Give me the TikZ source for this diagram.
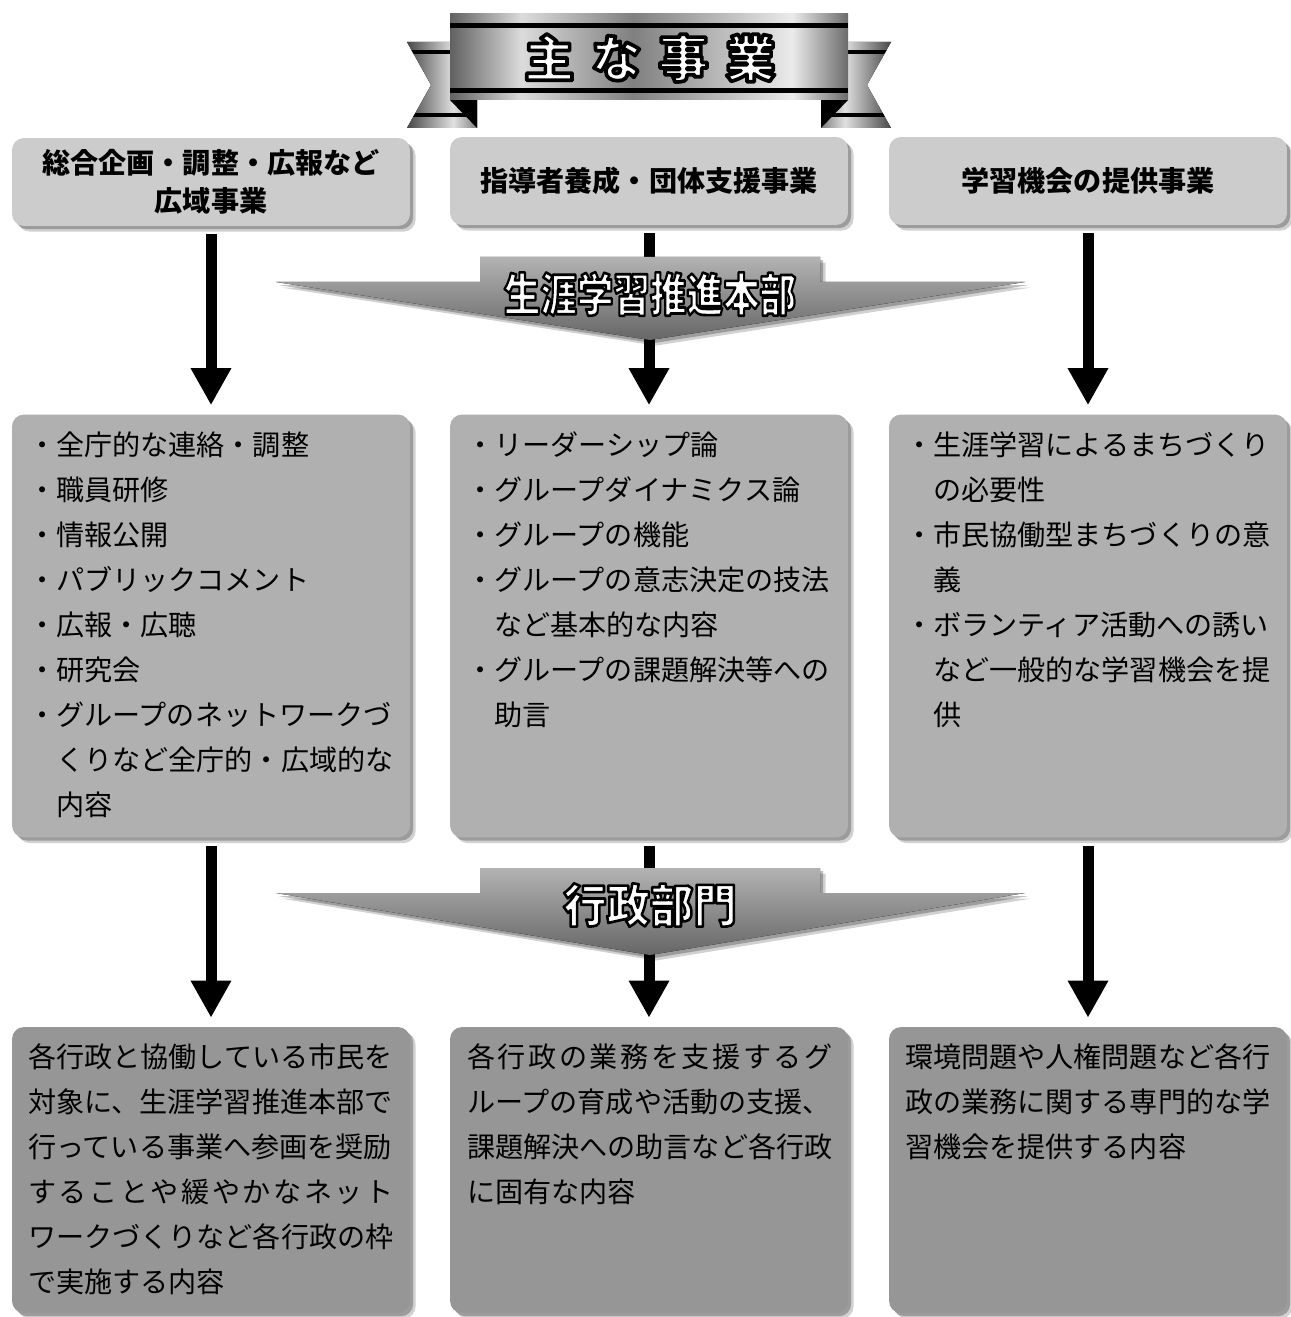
\documentclass[tikz,border=0pt]{standalone}
\usepackage{fontspec}
\setmainfont{Noto Sans CJK JP}
\usetikzlibrary{arrows.meta,shadows,positioning,calc}

% metallic ribbon shadings
\pgfdeclarehorizontalshading{metal}{100bp}{color(0bp)=(black!62); color(25bp)=(black!62); color(34bp)=(black!14); color(48bp)=(black!50); color(68bp)=(black!8); color(75bp)=(black!58); color(100bp)=(black!58)}
\pgfdeclarehorizontalshading{tailleft}{100bp}{color(0bp)=(black!72); color(25bp)=(black!72); color(58bp)=(black!12); color(75bp)=(black!50); color(100bp)=(black!50)}
\pgfdeclarehorizontalshading{tailright}{100bp}{color(0bp)=(black!50); color(25bp)=(black!50); color(42bp)=(black!12); color(75bp)=(black!72); color(100bp)=(black!72)}

\newcommand\bodyfont{\fontsize{16pt}{25.6pt}\selectfont}
\newcommand\spreadline[1]{\makebox[13em][s]{\spreadloop#1\relax}}
\def\spreadloop#1#2{#1\ifx\relax#2\else\hfil\expandafter\spreadloop\expandafter#2\fi}
\newcommand\ind{\phantom{・}}
% white letters with a black rim (fill + stroke)
\newcommand\rimmed[2]{\special{pdf:literal direct 2 Tr #1 w 0 G 1 j}#2\special{pdf:literal direct 0 Tr}}

\tikzset{
  softshadow/.style={
    general shadow={shadow xshift=3.2pt, shadow yshift=-3.2pt, fill=black, opacity=0.18},
    general shadow={shadow xshift=1.8pt, shadow yshift=-1.8pt, fill=black, opacity=0.25}},
  box/.style={rounded corners=0.24cm, minimum width=7.96cm, inner sep=0pt, softshadow},
  headbox/.style={box, fill=black!20, minimum height=1.76cm, align=center,
    font={\fontsize{16pt}{21.6pt}\selectfont\bfseries}},
  topicbox/.style={box, fill=black!31, minimum height=8.46cm},
  deptbox/.style={box, fill=black!41, minimum height=5.72cm},
  boxtext/.style={anchor=north west, inner sep=0pt, align=left, font=\bodyfont},
  flow/.style={line width=0.22cm, -{Triangle[width=0.76cm,length=0.74cm]},
    shorten <=0.16cm, shorten >=0.18cm},
  chevron/.style={top color=black!30, bottom color=black!60, softshadow},
  bannertext/.style={font={\fontsize{26pt}{26pt}\selectfont\bfseries}, text=white, inner sep=0pt}
}

\begin{document}
\begin{tikzpicture}[x=0.02cm,y=-0.02cm]
\useasboundingbox[fill=white] (0,0) rectangle (1290,1317);

% title ribbon
\fill[shading=tailleft] (407,42) -- (477,42) -- (477,128) -- (407,128) -- (431,85) -- cycle;
\fill[shading=tailright] (891,42) -- (821,42) -- (821,128) -- (891,128) -- (867,85) -- cycle;
\begin{scope}
  \clip (407,42) -- (477,42) -- (477,128) -- (407,128) -- (431,85) -- cycle;
  \fill[black] (400,50) rectangle (477,54);
  \fill[black] (400,113) rectangle (477,117);
\end{scope}
\begin{scope}
  \clip (891,42) -- (821,42) -- (821,128) -- (891,128) -- (867,85) -- cycle;
  \fill[black] (821,50) rectangle (900,54);
  \fill[black] (821,113) rectangle (900,117);
\end{scope}
\fill[black] (450,100) -- (477,100) -- (477,128) -- cycle;
\fill[black] (848,100) -- (821,100) -- (821,128) -- cycle;
\fill[shading=metal] (450,14) rectangle (848,100);
\fill[black] (450,23) rectangle (848,28);
\fill[black] (450,88) rectangle (848,93);
\node[font={\fontsize{28.5pt}{28.5pt}\selectfont\bfseries}, text=white, inner sep=0pt] (title) at (650,58)
  {\rimmed{2.1}{主\hspace{0.34em}な\hspace{0.34em}事\hspace{0.34em}業}};

% first row
\node[headbox] (wide) at (211,182) {総合企画・調整・広報など\\広域事業};
\node[headbox] (leader) at (649,181) {指導者養成・団体支援事業};
\node[headbox] (offer) at (1088,181) {学習機会の提供事業};

% second row
\node[topicbox] (wideT) at (211,626) {};
\node[topicbox] (leaderT) at (649,626) {};
\node[topicbox] (offerT) at (1088,626) {};

\node[boxtext] (wideL) at ($(wideT.north west)+(16,17)$)
  {・全庁的な連絡・調整\\・職員研修\\・情報公開\\・パブリックコメント\\・広報・広聴\\・研究会\\
   ・グループのネットワークづ\\\ind くりなど全庁的・広域的な\\\ind 内容};
\node[boxtext] (leaderL) at ($(leaderT.north west)+(16,17)$)
  {・リーダーシップ論\\・グループダイナミクス論\\・グループの機能\\
   ・グループの意志決定の技法\\\ind など基本的な内容\\・グループの課題解決等への\\\ind 助言};
\node[boxtext] (offerL) at ($(offerT.north west)+(16,17)$)
  {・生涯学習によるまちづくり\\\ind の必要性\\・市民協働型まちづくりの意\\\ind 義\\
   ・ボランティア活動への誘い\\\ind など一般的な学習機会を提\\\ind 供};

% third row
\node[deptbox] (wideD) at (211,1170) {};
\node[deptbox] (leaderD) at (649,1170) {};
\node[deptbox] (offerD) at (1088,1170) {};

\node[boxtext] (wideM) at ($(wideD.north west)+(16,17)$)
  {各行政と協働している市民を\\対象に、生涯学習推進本部で\\行っている事業へ参画を奨励\\
   \spreadline{することや緩やかなネット}\\ワークづくりなど各行政の枠\\で実施する内容};
\node[boxtext] (leaderM) at ($(leaderD.north west)+(17,17)$)
  {\spreadline{各行政の業務を支援するグ}\\ループの育成や活動の支援、\\課題解決への助言など各行政\\に固有な内容};
\node[boxtext] (offerM) at ($(offerD.north west)+(16,17)$)
  {環境問題や人権問題など各行\\政の業務に関する専門的な学\\習機会を提供する内容};

% arrows
\foreach \a/\b in {wide/wideT, leader/leaderT, offer/offerT, wideT/wideD, leaderT/leaderD, offerT/offerD}
  \draw[flow] (\a) -- (\b);

% banners
\fill[chevron] (276,282) -- (480,282) -- (480,257) -- (820,257) -- (820,282) -- (1025,282) -- (650,340) -- cycle;
\node[bannertext] (hq) at (650,294) {\scalebox{0.8}[1]{\rimmed{1.5}{生涯学習推進本部}}};

\fill[chevron] (276,893) -- (480,893) -- (480,868) -- (820,868) -- (820,893) -- (1025,893) -- (650,955) -- cycle;
\node[bannertext] (admin) at (650,905) {\scalebox{0.95}[1]{\rimmed{1.5}{行政部門}}};
\end{tikzpicture}
\end{document}
